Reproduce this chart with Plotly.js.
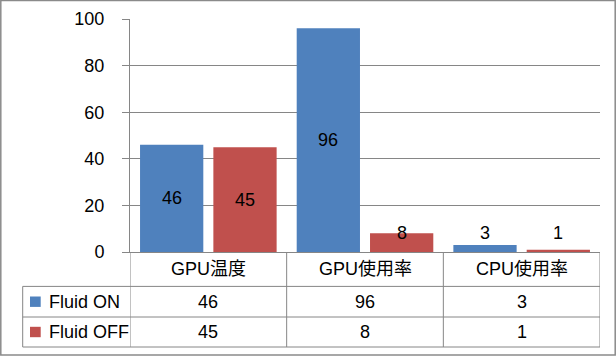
<!DOCTYPE html>
<html>
<head>
<meta charset="utf-8">
<script src="https://cdn.plot.ly/plotly-3.0.1.min.js"></script>
<style>html,body{margin:0;padding:0;background:#fff;}#chart{width:616px;height:356px;}</style>
</head>
<body>
<div id="chart"></div>
<script>
const categories = ['GPU温度', 'GPU使用率', 'CPU使用率'];
const seriesNames = ['Fluid ON', 'Fluid OFF'];
const fluidOn = [46, 96, 3];
const fluidOff = [45, 8, 1];
const colors = ['#4F81BD', '#C0504D'];

const W = 616, H = 356;
const mL = 130, mR = 16, mT = 19.3, mB = 103.7;
const plotW = W - mL - mR, plotH = H - mT - mB;
const FONT = 'Liberation Sans, Arial, Noto Sans CJK JP, sans-serif';
const GRID = '#868686';
const FS = 18;

// pixel -> paper helpers
const px = x => (x - mL) / plotW;
const py = y => (H - mB - y) / plotH;

const bargap = 0.064, bargroupgap = 0.137;
const seriesVals = [fluidOn, fluidOff];

const traces = seriesVals.map((vals, s) => ({
  type: 'bar',
  name: seriesNames[s],
  x: categories,
  y: vals,
  marker: {color: colors[s], line: {width: 0}},
  hoverinfo: 'skip'
}));

const annotations = [];
const shapes = [];
// data labels on bars
const catW = plotW / categories.length;
const slot = catW * (1 - bargap) / 2;
seriesVals.forEach((vals, s) => {
  vals.forEach((v, i) => {
    annotations.push({
      x: categories[i], xref: 'x', y: Math.max(v / 2, 8), yref: 'y',
      xshift: (s === 0 ? -1 : 1) * slot / 2,
      text: String(v), showarrow: false,
      font: {family: FONT, size: FS, color: '#000'},
      xanchor: 'center', yanchor: 'middle'
    });
  });
});

// table rows (pixel positions)
const rowTop = [252.3, 286.7, 317.3];
const rowBot = [286.7, 317.3, 347.3];
const rowMid = i => (rowTop[i] + rowBot[i]) / 2;

categories.forEach((c, i) => {
  annotations.push({
    x: c, xref: 'x', y: py(rowMid(0)), yref: 'paper',
    text: c, showarrow: false, font: {family: FONT, size: FS, color: '#000'},
    xanchor: 'center', yanchor: 'middle'
  });
  seriesVals.forEach((vals, s) => {
    annotations.push({
      x: c, xref: 'x', y: py(rowMid(s + 1)), yref: 'paper',
      text: String(vals[i]), showarrow: false, font: {family: FONT, size: FS, color: '#000'},
      xanchor: 'center', yanchor: 'middle'
    });
  });
});

// legend keys and names in table
seriesNames.forEach((n, s) => {
  const mid = rowMid(s + 1);
  shapes.push({
    type: 'rect', xref: 'paper', yref: 'paper',
    x0: px(30), x1: px(40.7), y0: py(mid - 5.2), y1: py(mid + 5.2),
    fillcolor: colors[s], line: {width: 0}
  });
  annotations.push({
    x: px(47), xref: 'paper', y: py(mid), yref: 'paper',
    text: n, showarrow: false, font: {family: FONT, size: FS, color: '#000'},
    xanchor: 'left', yanchor: 'middle'
  });
});

// table lines
const line = {color: GRID, width: 1};
[286.7, 317.3, 347.3].forEach(y => shapes.push({
  type: 'line', xref: 'paper', yref: 'paper',
  x0: px(22.7), x1: 1, y0: py(y), y1: py(y), line
}));
shapes.push({type: 'line', xref: 'paper', yref: 'paper',
  x0: px(22.7), x1: px(22.7), y0: py(286.7), y1: py(347.3), line});
for (let k = 0; k <= categories.length; k++) {
  shapes.push({type: 'line', xref: 'x', yref: 'paper',
    x0: k - 0.5, x1: k - 0.5, y0: 0, y1: py(347.3), line});
}
// outer border
shapes.push({type: 'rect', xref: 'paper', yref: 'paper',
  x0: px(0.8), x1: px(615.2), y0: py(0.8), y1: py(355.2),
  line: {color: '#8a8a8a', width: 1.5}, fillcolor: 'rgba(0,0,0,0)'});

const layout = {
  width: W, height: H,
  margin: {l: mL, r: mR, t: mT, b: mB, pad: 0},
  paper_bgcolor: '#fff', plot_bgcolor: '#fff',
  showlegend: false,
  barmode: 'group', bargap: bargap, bargroupgap: bargroupgap,
  font: {family: FONT, size: FS, color: '#000'},
  xaxis: {
    type: 'category', range: [-0.5, 2.5], showticklabels: false, ticks: '',
    showgrid: false, zeroline: false, showline: true, linecolor: GRID, linewidth: 1,
    fixedrange: true
  },
  yaxis: {
    range: [0, 100], dtick: 20, tick0: 0,
    showgrid: true, gridcolor: GRID, gridwidth: 1,
    zeroline: false, showline: true, linecolor: GRID, linewidth: 1,
    ticks: 'outside', ticklen: 7, tickcolor: GRID, tickwidth: 1,
    ticklabelstandoff: 14,
    tickfont: {family: FONT, size: FS, color: '#000'},
    fixedrange: true
  },
  annotations: annotations,
  shapes: shapes
};

Plotly.newPlot('chart', traces, layout, {displayModeBar: false, staticPlot: true});
</script>
</body>
</html>
